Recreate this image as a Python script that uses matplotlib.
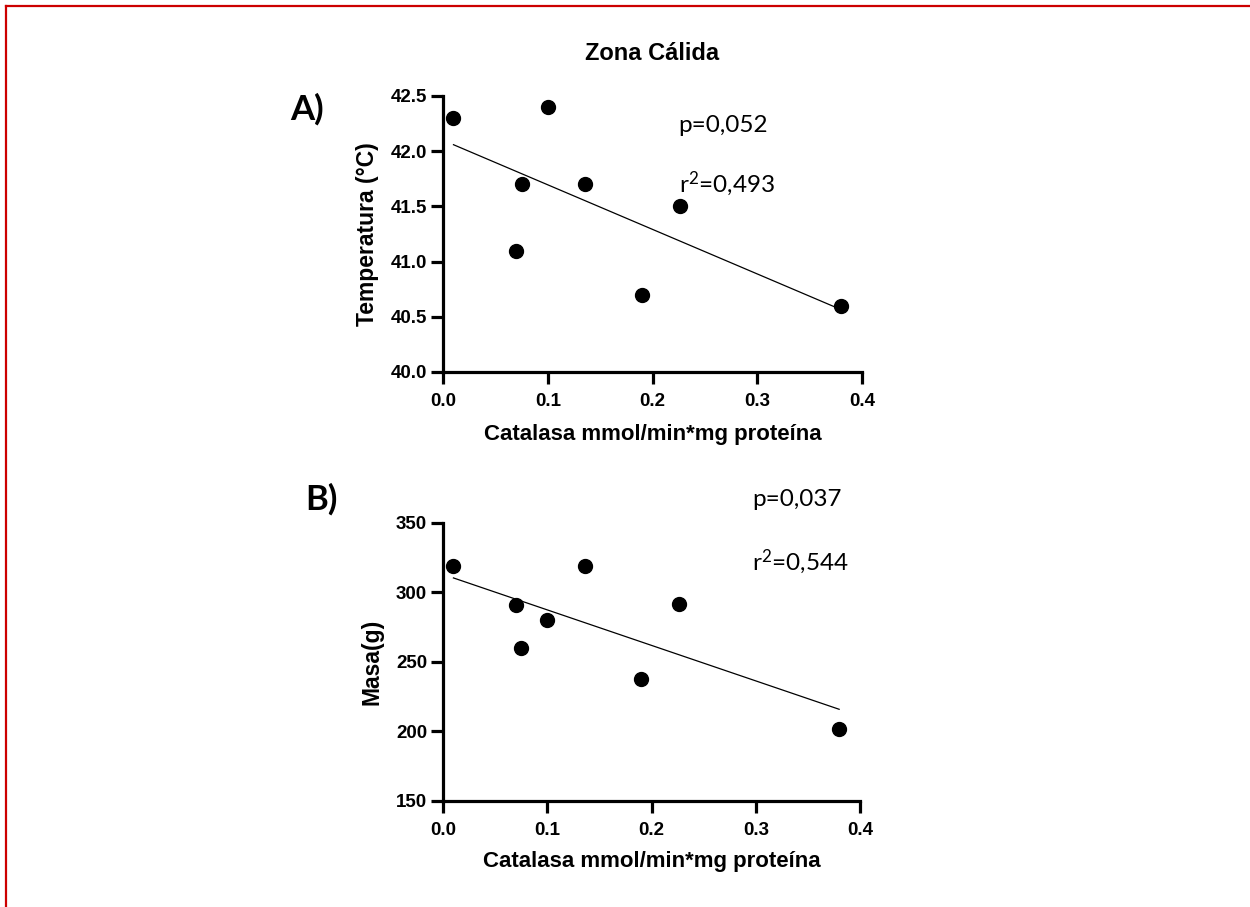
import numpy as np
import matplotlib
matplotlib.use("Agg")
import matplotlib.pyplot as plt
from matplotlib.lines import Line2D

# catalasa (mmol/min*mg proteina) for each bird
catalasa = [0.01, 0.07, 0.075, 0.1, 0.136, 0.19, 0.226, 0.38]
temperatura = [42.3, 41.1, 41.7, 42.4, 41.7, 40.7, 41.5, 40.6]
masa = [319, 291, 260, 280, 319, 238, 292, 202]

x_ticks = [0.0, 0.1, 0.2, 0.3, 0.4]
temp_ticks = [40.0, 40.5, 41.0, 41.5, 42.0, 42.5]
masa_ticks = [150, 200, 250, 300, 350]

stats_a = ["p=0,052", "r$^{2}$=0,493"]
stats_b = ["p=0,037", "r$^{2}$=0,544"]

plt.rcParams["font.family"] = ["Liberation Sans", "DejaVu Sans"]
plt.rcParams["mathtext.fontset"] = "custom"
plt.rcParams["mathtext.rm"] = "Lato"
plt.rcParams["mathtext.default"] = "rm"

fig = plt.figure(figsize=(12.5, 9.07), dpi=100)


def panel(ax, y, yticks, ylabel, ylim, xlab_y, ylab_x):
    ax.plot(catalasa, y, "o", color="black", ms=10, clip_on=False, zorder=3)
    slope, icpt = np.polyfit(catalasa, y, 1)
    xs = np.array([min(catalasa), max(catalasa)])
    ax.plot(xs, slope * xs + icpt, color="black", lw=0.9)
    ax.set_xlim(0, 0.4)
    ax.set_ylim(*ylim)
    ax.set_xticks(x_ticks)
    ax.set_xticklabels([f"{t:.1f}" for t in x_ticks])
    ax.set_yticks(yticks)
    if isinstance(yticks[0], float):
        ax.set_yticklabels([f"{t:.1f}" for t in yticks])
    for s in ["top", "right"]:
        ax.spines[s].set_visible(False)
    for s in ["left", "bottom"]:
        ax.spines[s].set_linewidth(2.3)
    ax.tick_params(width=2.3, length=8.5, labelsize=13.5)
    ax.tick_params(axis="x", pad=7)
    ax.tick_params(axis="y", pad=3)
    for lbl in ax.get_xticklabels() + ax.get_yticklabels():
        lbl.set_fontweight("bold")
    ax.set_xlabel("Catalasa mmol/min*mg proteína", fontsize=16,
                  fontweight="bold", va="center")
    ax.set_ylabel(ylabel, fontsize=16.5, fontweight="bold", va="center")
    ax.xaxis.set_label_coords(0.5, xlab_y)
    ax.yaxis.set_label_coords(ylab_x, 0.5)


ax1 = fig.add_axes([0.3544, 0.5899, 0.3352, 0.3043])
panel(ax1, temperatura, temp_ticks, "Temperatura (°C)", (40.0, 42.5),
      -0.228, -0.181)

ax2 = fig.add_axes([0.3544, 0.1169, 0.3336, 0.3065])
panel(ax2, masa, masa_ticks, "Masa(g)", (150, 350), -0.219, -0.170)

fig.text(0.5216, 0.941, "Zona Cálida", ha="center", va="center",
         fontsize=17, fontweight="bold")

fig.text(0.232, 0.88, "A)", fontsize=25, fontweight="bold",
         family=["Lato", "DejaVu Sans"], va="center")
fig.text(0.244, 0.449, "B)", fontsize=25, fontweight="bold",
         family=["Lato", "DejaVu Sans"], va="center")

fig.text(0.543, 0.862, stats_a[0], fontsize=17.5, va="center",
         family=["Lato", "DejaVu Sans"])
fig.text(0.543, 0.798, stats_a[1], fontsize=17.5, va="center",
         family=["Lato", "DejaVu Sans"])
fig.text(0.6016, 0.449, stats_b[0], fontsize=17.5, va="center",
         family=["Lato", "DejaVu Sans"])
fig.text(0.6016, 0.381, stats_b[1], fontsize=17.5, va="center",
         family=["Lato", "DejaVu Sans"])

# red frame (only top and left edges fall inside the image)
red = "#cc0000"
fig.add_artist(Line2D([6 / 1250, 6 / 1250], [0, 1 - 6 / 907],
                      transform=fig.transFigure, color=red, lw=1.6))
fig.add_artist(Line2D([6 / 1250, 1], [1 - 6 / 907, 1 - 6 / 907],
                      transform=fig.transFigure, color=red, lw=1.6))

fig.savefig("out.png", dpi=100)
